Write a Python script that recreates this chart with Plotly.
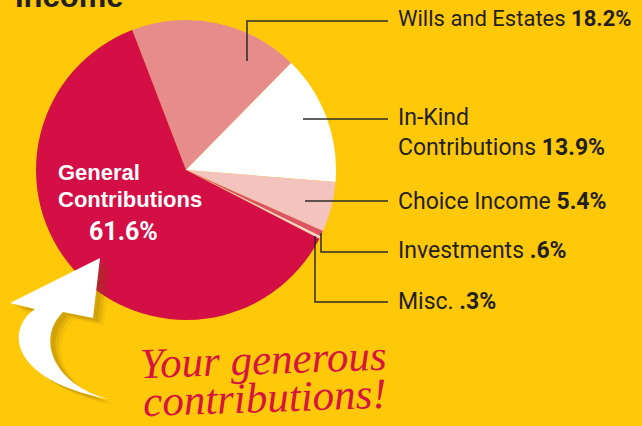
import plotly.graph_objects as go

W, H = 642, 426

# ---- data ----
categories = ["Wills and Estates", "In-Kind Contributions", "Choice Income",
              "Investments", "Misc.", "General Contributions"]
shares = [18.2, 13.9, 5.4, 0.6, 0.3, 61.6]
share_labels = ["18.2%", "13.9%", "5.4%", ".6%", ".3%", "61.6%"]
slice_colors = ["#E68C8B", "#FFFFFF", "#F3C3BD", "#DC5468", "#F6D3CB", "#D40F46"]

BG = "#FFC90A"


def px(x):
    return x / W


def py(y):
    return 1 - y / H


def path(points, close=False):
    s = "M " + " L ".join(f"{px(x):.5f},{py(y):.5f}" for x, y in points)
    return s + (" Z" if close else "")


fig = go.Figure()
fig.add_trace(go.Pie(
    labels=categories, values=shares, sort=False, direction="clockwise",
    rotation=-21, textinfo="none", hoverinfo="label+percent",
    marker=dict(colors=slice_colors, line=dict(width=0)),
    domain=dict(x=[px(36), px(336)], y=[py(320), py(20)]),
    showlegend=False,
))

shapes = []
line_style = dict(color="#2b2b2b", width=1.5)
leaders = [
    [(247, 61), (247, 21), (388, 21)],
    [(303, 119), (388, 119)],
    [(305, 201), (388, 201)],
    [(321, 233), (321, 252), (388, 252)],
    [(315, 236), (315, 302), (388, 302)],
]
for pts in leaders:
    shapes.append(dict(type="path", xref="paper", yref="paper",
                       path=path(pts), line=line_style))

# curved arrow (decoration) with soft shadow
def arrow_path(dx=0, dy=0):
    def p(x, y):
        return f"{px(x + dx):.5f},{py(y + dy):.5f}"
    return (f"M {p(100,258)} L {p(10,303)} L {p(35,309)} "
            f"C {p(5,330)} {p(10,380)} {p(108,399)} "
            f"C {p(55,385)} {p(35,340)} {p(63,312)} "
            f"L {p(93,318)} Z")

for off, op in [(11, 0.08), (8, 0.12), (5, 0.16)]:
    shapes.append(dict(type="path", xref="paper", yref="paper",
                       path=arrow_path(off, off * 0.7),
                       fillcolor=f"rgba(120,85,0,{op})", line=dict(width=0)))
shapes.append(dict(type="path", xref="paper", yref="paper",
                   path=arrow_path(), fillcolor="#FFFFFF", line=dict(width=0)))

anns = []
right_labels = [
    ("Wills and Estates <b>" + share_labels[0] + "</b>", 19, 22),
    ("In-Kind", 117, 23),
    ("Contributions <b>" + share_labels[1] + "</b>", 147, 23),
    ("Choice Income <b>" + share_labels[2] + "</b>", 201, 23),
    ("Investments <b>" + share_labels[3] + "</b>", 251, 23),
    ("Misc. <b>" + share_labels[4] + "</b>", 301, 23),
]
for txt, yc, fs in right_labels:
    anns.append(dict(text=txt, x=px(396), y=py(yc), xref="paper", yref="paper",
                     xanchor="left", yanchor="middle", showarrow=False,
                     font=dict(family="Roboto, Liberation Sans, Arial", size=fs,
                               color="#231f20")))

# title (partially cut off at top)
anns.append(dict(text="<b>Income</b>", x=px(13), y=py(16), xref="paper", yref="paper",
                 xanchor="left", yanchor="bottom", showarrow=False,
                 font=dict(family="Liberation Sans, Arial", size=31, color="#231f20")))

# general contributions label
gfont = dict(family="Liberation Sans, Arial", size=22, color="#FFFFFF")
anns.append(dict(text="<b>General</b>", x=px(56), y=py(172), xref="paper", yref="paper",
                 xanchor="left", yanchor="middle", showarrow=False, font=gfont))
anns.append(dict(text="<b>Contributions</b>", x=px(56), y=py(199), xref="paper", yref="paper",
                 xanchor="left", yanchor="middle", showarrow=False, font=gfont))
anns.append(dict(text="<b>" + share_labels[5] + "</b>", x=px(123), y=py(231),
                 xref="paper", yref="paper", xanchor="center", yanchor="middle",
                 showarrow=False,
                 font=dict(family="Roboto, Liberation Sans", size=25, color="#FFFFFF")))

# handwritten note
hfont = dict(family="Liberation Serif, DejaVu Serif", size=43, color="#D6143F", style="italic")
anns.append(dict(text="Your generous", x=px(263), y=py(359), xref="paper", yref="paper",
                 xanchor="center", yanchor="middle", showarrow=False, font=hfont,
                 textangle=-2))
anns.append(dict(text="contributions!", x=px(265), y=py(397), xref="paper", yref="paper",
                 xanchor="center", yanchor="middle", showarrow=False, font=hfont,
                 textangle=-2))

fig.update_layout(
    width=W, height=H, margin=dict(l=0, r=0, t=0, b=0),
    paper_bgcolor=BG, plot_bgcolor=BG,
    shapes=shapes, annotations=anns,
)
fig.write_html("out.html", config={"displayModeBar": False},
               post_script="document.body.style.margin='0';document.body.style.background='" + BG + "';")
